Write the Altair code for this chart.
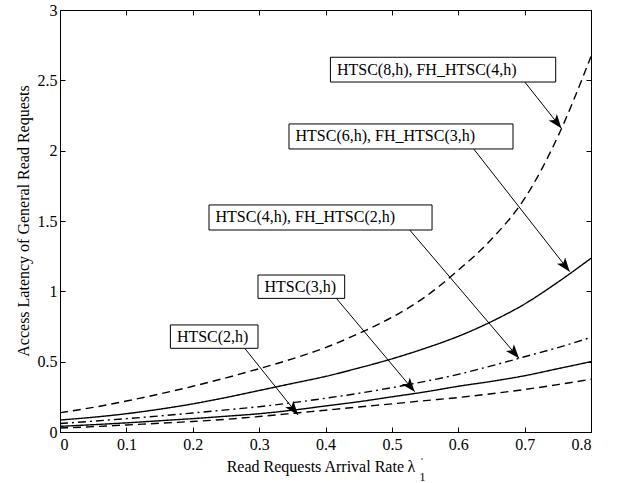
import math
import altair as alt
import pandas as pd

# ---------------- data ----------------
x_vals = [0.0, 0.05, 0.1, 0.15, 0.2, 0.25, 0.3, 0.35, 0.4, 0.45, 0.5, 0.55, 0.6, 0.65, 0.7, 0.75, 0.8]
htsc2 = [0.028, 0.038, 0.05, 0.062, 0.075, 0.09, 0.11, 0.132, 0.155, 0.178, 0.2, 0.223, 0.245, 0.272, 0.302, 0.337, 0.375]
htsc3 = [0.04, 0.052, 0.065, 0.08, 0.095, 0.112, 0.13, 0.155, 0.185, 0.215, 0.25, 0.285, 0.325, 0.36, 0.40, 0.45, 0.50]
htsc4 = [0.06, 0.077, 0.095, 0.114, 0.135, 0.157, 0.18, 0.208, 0.24, 0.275, 0.315, 0.36, 0.41, 0.47, 0.535, 0.60, 0.673]
htsc6 = [0.085, 0.105, 0.13, 0.162, 0.2, 0.245, 0.295, 0.345, 0.395, 0.455, 0.52, 0.595, 0.68, 0.785, 0.91, 1.065, 1.235]
htsc8 = [0.137, 0.175, 0.22, 0.27, 0.325, 0.385, 0.45, 0.52, 0.60, 0.70, 0.815, 0.96, 1.15, 1.37, 1.66, 2.10, 2.67]

series_names = ["HTSC(2,h)", "HTSC(3,h)", "HTSC(4,h)", "HTSC(6,h)", "HTSC(8,h)"]
series_values = [htsc2, htsc3, htsc4, htsc6, htsc8]
series_dash = [[8, 5], [1, 0], [8, 4, 2, 4], [1, 0], [8, 5]]

x_ticks = [0, 0.1, 0.2, 0.3, 0.4, 0.5, 0.6, 0.7, 0.8]
y_ticks = [0, 0.5, 1, 1.5, 2, 2.5, 3]

ann_labels = ["HTSC(8,h), FH_HTSC(4,h)", "HTSC(6,h), FH_HTSC(3,h)", "HTSC(4,h), FH_HTSC(2,h)", "HTSC(3,h)", "HTSC(2,h)"]
ann_box_x1 = [0.4074, 0.3450, 0.2245, 0.2983, 0.1663]
ann_box_x2 = [0.7468, 0.6825, 0.5605, 0.4289, 0.2983]
ann_box_top = [2.664, 2.190, 1.614, 1.116, 0.761]
ann_box_bottom = [2.488, 2.012, 1.436, 0.950, 0.595]
ann_tail_x = [0.7003, 0.6233, 0.5269, 0.4164, 0.2783]
ann_tip_x = [0.7554, 0.7679, 0.6915, 0.5344, 0.3586]
ann_tip_y = [2.159, 1.140, 0.524, 0.2865, 0.121]

# ---------------- layout ----------------
W, H = 531, 422
X_DOM = [0, 0.8]
Y_DOM = [0, 3]
FONT = "Liberation Serif"

rows = []
for name, vals in zip(series_names, series_values):
    for xv, yv in zip(x_vals, vals):
        rows.append({"series": name, "x": xv, "y": yv})
lines_df = pd.DataFrame(rows)

ann = pd.DataFrame({
    "label": ann_labels,
    "x1": ann_box_x1, "x2": ann_box_x2,
    "ytop": ann_box_top, "ybot": ann_box_bottom,
    "tx": ann_tail_x, "hx": ann_tip_x, "hy": ann_tip_y,
})
ann["ymid"] = (ann["ytop"] + ann["ybot"]) / 2
px_x = W / (X_DOM[1] - X_DOM[0])
px_y = H / (Y_DOM[1] - Y_DOM[0])
angs = []
for _, r in ann.iterrows():
    dx = (r["hx"] - r["tx"]) * px_x
    dy = (r["ybot"] - r["hy"]) * px_y  # screen-down positive
    angs.append(math.degrees(math.atan2(dx, -dy)) % 360)
ann["ang"] = angs

xs = alt.Scale(domain=X_DOM, nice=False, zero=False)
ys = alt.Scale(domain=Y_DOM, nice=False, zero=False)

axis_common = dict(offset=-5, tickSize=5, domain=False, grid=False,
                   tickColor="black", tickWidth=1, labelColor="black",
                   labelFont=FONT, labelFontSize=16, title=None)

lines = alt.Chart(lines_df).mark_line(color="black", strokeWidth=1.4, interpolate="monotone").encode(
    x=alt.X("x:Q", scale=xs, axis=alt.Axis(orient="bottom", values=x_ticks, format="~g",
                                            labelPadding=4, **axis_common)),
    y=alt.Y("y:Q", scale=ys, axis=alt.Axis(orient="left", values=y_ticks, format="~g",
                                            labelPadding=3, **axis_common)),
    strokeDash=alt.StrokeDash("series:N", scale=alt.Scale(domain=series_names, range=series_dash), legend=None),
    detail="series:N",
)

mirror = alt.Chart(lines_df).mark_line(strokeOpacity=0).encode(
    x=alt.X("x:Q", scale=xs, axis=alt.Axis(orient="top", values=x_ticks, labels=False, **axis_common)),
    y=alt.Y("y:Q", scale=ys, axis=alt.Axis(orient="right", values=y_ticks, labels=False, **axis_common)),
    detail="series:N",
)

arrows = alt.Chart(ann).mark_rule(color="black", strokeWidth=1).encode(
    x=alt.X("tx:Q", scale=xs, axis=None), y=alt.Y("ybot:Q", scale=ys, axis=None),
    x2="hx:Q", y2="hy:Q",
)

head_path = "M0,0 L-0.75,2 L0,1.5 L0.75,2 Z"
heads = alt.Chart(ann).mark_point(shape=head_path, filled=True, color="black", size=196,
                                  opacity=1, strokeWidth=0).encode(
    x=alt.X("hx:Q", scale=xs, axis=None), y=alt.Y("hy:Q", scale=ys, axis=None),
    angle=alt.Angle("ang:Q", scale=None),
)

boxes = alt.Chart(ann).mark_rect(fill="white", stroke="black", strokeWidth=1).encode(
    x=alt.X("x1:Q", scale=xs, axis=None), x2="x2:Q",
    y=alt.Y("ytop:Q", scale=ys, axis=None), y2="ybot:Q",
)

box_text = alt.Chart(ann).mark_text(align="left", baseline="middle", dx=6.5, font=FONT,
                                    fontSize=16, color="black").encode(
    x=alt.X("x1:Q", scale=xs, axis=None), y=alt.Y("ymid:Q", scale=ys, axis=None),
    text="label:N",
)

one = pd.DataFrame({"a": [0]})
xtitle = alt.Chart(one).mark_text(text="Read Requests Arrival Rate", align="left", baseline="alphabetic",
                                  font=FONT, fontSize=16, color="black").encode(
    x=alt.value(166.7), y=alt.value(461.7))
lam = alt.Chart(one).mark_text(text="λ", align="left", baseline="alphabetic",
                               font=FONT, fontSize=16, color="black").encode(
    x=alt.value(347.5), y=alt.value(461.7))
sub1 = alt.Chart(one).mark_text(text="1", align="left", baseline="alphabetic",
                                font=FONT, fontSize=12, color="black").encode(
    x=alt.value(359.5), y=alt.value(471))
prime = alt.Chart(one).mark_text(text="'", align="left", baseline="alphabetic",
                                 font=FONT, fontSize=10, color="black").encode(
    x=alt.value(361), y=alt.value(455))
ytitle = alt.Chart(one).mark_text(text="Access Latency of General Read Requests", angle=270,
                                  align="center", baseline="middle",
                                  font=FONT, fontSize=16, color="black").encode(
    x=alt.value(-36), y=alt.value(211))

chart = alt.layer(
    lines, mirror, arrows, boxes, box_text, heads, xtitle, lam, sub1, prime, ytitle
).resolve_axis(x="independent", y="independent").properties(
    width=W, height=H,
    autosize=alt.AutoSizeParams(type="none"),
    padding={"left": 60, "top": 10, "right": 36, "bottom": 51},
    background="white",
).configure_view(stroke="black", strokeWidth=1)

chart.save("out.html", embed_options={"renderer": "svg", "actions": False})
